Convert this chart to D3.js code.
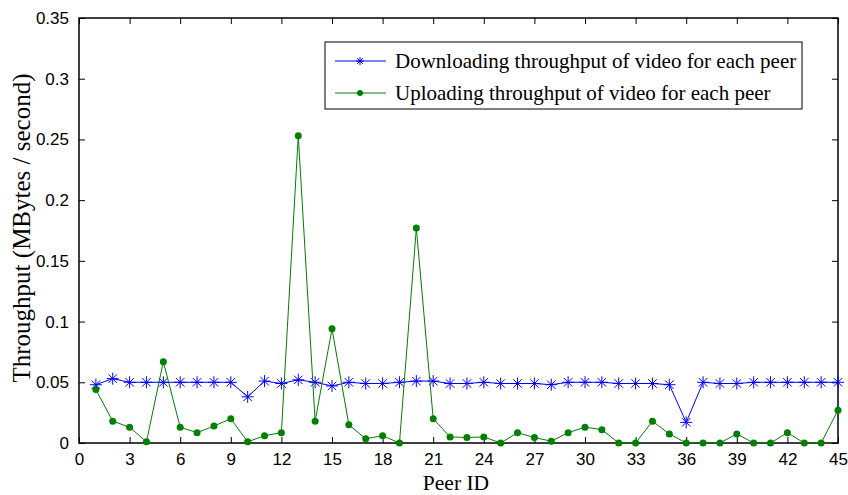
<!DOCTYPE html>
<html>
<head>
<meta charset="utf-8">
<script src="https://cdn.jsdelivr.net/npm/d3@7"></script>
<style>
  html, body { margin: 0; padding: 0; background: #fff; }
  svg { display: block; }
</style>
</head>
<body>
<svg id="chart" width="848" height="495"></svg>
<script>
// Peer identifiers 1..45
const peerIds = [1,2,3,4,5,6,7,8,9,10,11,12,13,14,15,16,17,18,19,20,21,22,23,24,25,26,27,28,29,30,31,32,33,34,35,36,37,38,39,40,41,42,43,44,45];

// Downloading throughput per peer (MBytes / second)
const downloadThroughput = [
  0.048, 0.053, 0.050, 0.050, 0.050, 0.050, 0.050, 0.050, 0.050, 0.038,
  0.051, 0.049, 0.052, 0.050, 0.047, 0.050, 0.049, 0.049, 0.050, 0.051,
  0.051, 0.049, 0.049, 0.050, 0.049, 0.049, 0.049, 0.048, 0.050, 0.050,
  0.050, 0.049, 0.049, 0.049, 0.048, 0.017, 0.050, 0.049, 0.049, 0.050,
  0.050, 0.050, 0.050, 0.050, 0.050
];

// Uploading throughput per peer (MBytes / second)
const uploadThroughput = [
  0.044, 0.018, 0.013, 0.001, 0.067, 0.013, 0.0085, 0.014, 0.020, 0.001,
  0.006, 0.0085, 0.253, 0.018, 0.094, 0.015, 0.0035, 0.006, 0.000, 0.177,
  0.020, 0.005, 0.0045, 0.005, 0.000, 0.0085, 0.0045, 0.0015, 0.0085, 0.013,
  0.011, 0.000, 0.000, 0.018, 0.0075, 0.000, 0.000, 0.000, 0.0075, 0.000,
  0.000, 0.0085, 0.000, 0.000, 0.027
];

const xTicks = [0,3,6,9,12,15,18,21,24,27,30,33,36,39,42,45];
const yTicks = [0,0.05,0.1,0.15,0.2,0.25,0.3,0.35];
const yTickLabels = ["0","0.05","0.1","0.15","0.2","0.25","0.3","0.35"];

const seriesNames = [
  "Downloading throughput of video for each peer",
  "Uploading throughput of video for each peer"
];
const seriesColors = ["#0000ff", "#008000"];

const svg = d3.select("#chart");
const margin = { left: 79, top: 18, right: 10, bottom: 52 };
const W = 848, H = 495;
const x0 = margin.left, x1 = W - margin.right;
const y0 = H - margin.bottom, y1 = margin.top;

const x = d3.scaleLinear().domain([0, 45]).range([x0, x1]);
const y = d3.scaleLinear().domain([0, 0.35]).range([y0, y1]);

const tickFont = "Liberation Sans, Arial, sans-serif";
const serifFont = "Liberation Serif, Times New Roman, serif";
const tickLen = 6;

// Axes with inward ticks on all four sides
const bottomAxis = d3.axisBottom(x).tickValues(xTicks).tickSizeInner(-tickLen).tickSizeOuter(0).tickPadding(10);
const topAxis = d3.axisTop(x).tickValues(xTicks).tickSizeInner(-tickLen).tickSizeOuter(0).tickFormat("");
const leftAxis = d3.axisLeft(y).tickValues(yTicks).tickSizeInner(-tickLen).tickSizeOuter(0).tickPadding(10)
  .tickFormat((d, i) => yTickLabels[i]);
const rightAxis = d3.axisRight(y).tickValues(yTicks).tickSizeInner(-tickLen).tickSizeOuter(0).tickFormat("");

function styleAxis(g) {
  g.selectAll(".domain").remove();
  g.selectAll(".tick line").attr("stroke", "#000").attr("stroke-width", 1);
  g.selectAll(".tick text").attr("fill", "#000").style("font-family", tickFont).style("font-size", "17px");
}

svg.append("g").attr("transform", `translate(0,${y0})`).call(bottomAxis).call(styleAxis);
svg.append("g").attr("transform", `translate(0,${y1})`).call(topAxis).call(styleAxis);
svg.append("g").attr("transform", `translate(${x0},0)`).call(leftAxis).call(styleAxis);
svg.append("g").attr("transform", `translate(${x1},0)`).call(rightAxis).call(styleAxis);

// Plot frame
svg.append("rect")
  .attr("x", x0).attr("y", y1)
  .attr("width", x1 - x0).attr("height", y0 - y1)
  .attr("fill", "none").attr("stroke", "#000").attr("stroke-width", 1.5);

// Series lines
const line = d3.line().x(d => x(d[0])).y(d => y(d[1]));
const dlData = peerIds.map((p, i) => [p, downloadThroughput[i]]);
const ulData = peerIds.map((p, i) => [p, uploadThroughput[i]]);

function asterisk(g, cx, cy, r, color) {
  const a = r * Math.cos(Math.PI / 4);
  const d = `M${cx - r},${cy}L${cx + r},${cy}M${cx},${cy - r}L${cx},${cy + r}` +
            `M${cx - a},${cy - a}L${cx + a},${cy + a}M${cx - a},${cy + a}L${cx + a},${cy - a}`;
  g.append("path").attr("d", d).attr("stroke", color).attr("stroke-width", 1).attr("fill", "none");
}

const dlG = svg.append("g");
dlG.append("path").datum(dlData).attr("d", line)
  .attr("fill", "none").attr("stroke", seriesColors[0]).attr("stroke-width", 1);
dlData.forEach(d => asterisk(dlG, x(d[0]), y(d[1]), 6, seriesColors[0]));

const ulG = svg.append("g");
ulG.append("path").datum(ulData).attr("d", line)
  .attr("fill", "none").attr("stroke", seriesColors[1]).attr("stroke-width", 1);
ulG.selectAll("circle").data(ulData).enter().append("circle")
  .attr("cx", d => x(d[0])).attr("cy", d => y(d[1])).attr("r", 3.5)
  .attr("fill", seriesColors[1]);

// Axis titles
svg.append("text")
  .attr("x", 456).attr("y", 490)
  .attr("text-anchor", "middle")
  .style("font-family", serifFont).style("font-size", "21.5px")
  .text("Peer ID");

svg.append("text")
  .attr("transform", `translate(30,228) rotate(-90)`)
  .attr("text-anchor", "middle")
  .style("font-family", serifFont).style("font-size", "25px")
  .text("Throughput (MBytes / second)");

// Legend
const legend = svg.append("g");
const lgX = 325, lgY = 42, lgW = 477, lgH = 67;
legend.append("rect").attr("x", lgX).attr("y", lgY).attr("width", lgW).attr("height", lgH)
  .attr("fill", "#fff").attr("stroke", "#000").attr("stroke-width", 1);
const rows = [lgY + 19, lgY + 51];
rows.forEach((ry, i) => {
  legend.append("line").attr("x1", lgX + 10).attr("x2", lgX + 61).attr("y1", ry).attr("y2", ry)
    .attr("stroke", seriesColors[i]).attr("stroke-width", 1);
  if (i === 0) asterisk(legend, lgX + 35, ry, 4, seriesColors[0]);
  else legend.append("circle").attr("cx", lgX + 35).attr("cy", ry).attr("r", 3).attr("fill", seriesColors[1]);
  legend.append("text").attr("x", lgX + 70).attr("y", ry).attr("dy", "0.35em")
    .style("font-family", serifFont).style("font-size", "21px")
    .text(seriesNames[i]);
});
</script>
</body>
</html>
